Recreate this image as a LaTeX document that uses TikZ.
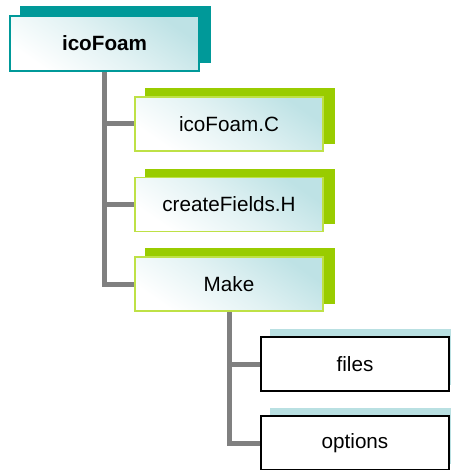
\documentclass[tikz,border=0pt]{standalone}
\usepackage{fontspec}
\setmainfont{Liberation Sans}
\usetikzlibrary{backgrounds}
\definecolor{tealc}{RGB}{0,153,153}
\definecolor{greenc}{RGB}{153,204,0}
\definecolor{greenb}{RGB}{190,225,70}
\definecolor{lblue}{RGB}{185,224,226}
\definecolor{fillblue}{RGB}{190,226,229}
\definecolor{conn}{RGB}{128,128,128}
\tikzset{
  gbox/.style={rectangle, inner sep=0pt, minimum width=141pt, minimum height=40.5pt,
    top color=fillblue, bottom color=white, middle color=fillblue!45!white, shading angle=-35,
    font=\fontsize{15.5}{18}\selectfont},
  rootbox/.style={gbox, minimum width=141.75pt, minimum height=41.25pt, draw=tealc, line width=1.5pt,
    font=\fontsize{15.5}{18}\selectfont\bfseries},
  greenbox/.style={gbox, draw=greenb, line width=1.2pt},
  plainbox/.style={rectangle, inner sep=0pt, minimum width=141pt, minimum height=40.5pt,
    draw=black, line width=1.1pt, fill=white, font=\fontsize{15.5}{18}\selectfont},
  conline/.style={draw=conn, line width=3.75pt},
}
\begin{document}
\begin{tikzpicture}[x=0.75pt, y=-0.75pt]
\useasboundingbox (0,0) rectangle (450,470);
\node[rootbox] (root) at (104.5,43.5) {icoFoam};
\node[greenbox] (c) at (229,124) {icoFoam.C};
\node[greenbox] (h) at (229,204.5) {createFields.H};
\node[greenbox] (make) at (229,284) {Make};
\node[plainbox] (files) at (355,364) {files};
\node[plainbox] (options) at (355,443) {options};
\begin{scope}[on background layer]
  \fill[tealc] ([shift={(11,-9)}]root.south west) rectangle ([shift={(11,-9)}]root.north east);
  \foreach \n in {c,h,make}
    \fill[greenc] ([shift={(11,-8)}]\n.south west) rectangle ([shift={(11,-8)}]\n.north east);
  \foreach \n in {files,options}
    \fill[lblue] ([shift={(10,-7)}]\n.south west) rectangle ([shift={(10,-7)}]\n.north east);
  \draw[conline] (root.south) -- (root.south |- make.west) -- (make.west);
  \draw[conline] (root.south |- c.west) -- (c.west);
  \draw[conline] (root.south |- h.west) -- (h.west);
  \draw[conline] (make.south) -- (make.south |- options.west) -- (options.west);
  \draw[conline] (make.south |- files.west) -- (files.west);
\end{scope}
\end{tikzpicture}
\end{document}
